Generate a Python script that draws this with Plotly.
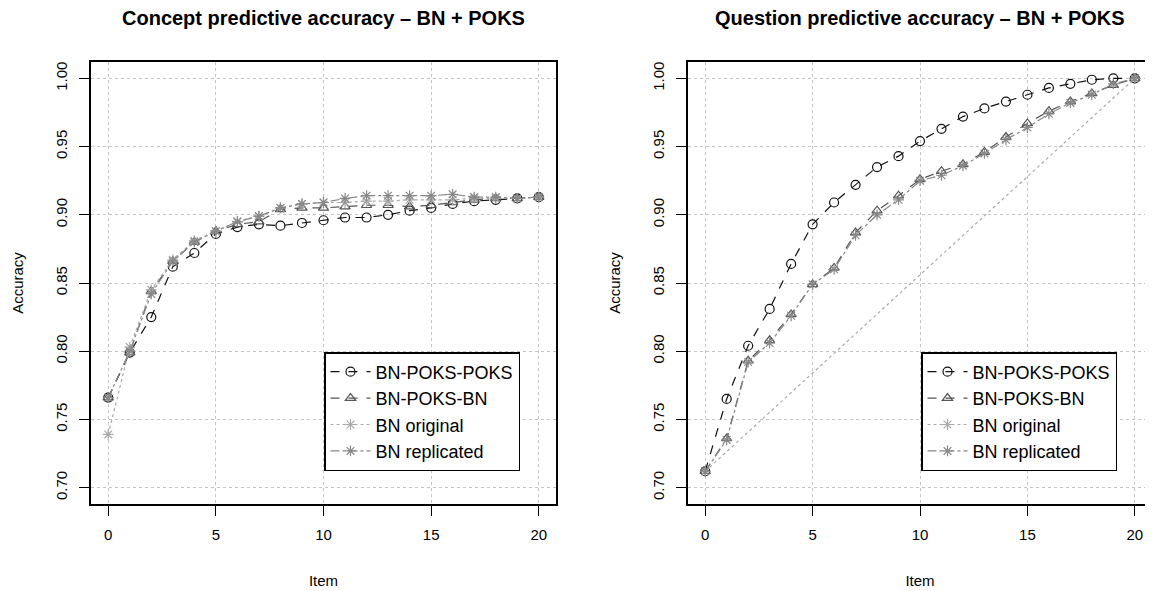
import plotly.graph_objects as go

items = list(range(21))

# Concept predictive accuracy
concept_poks_poks = [0.766, 0.799, 0.825, 0.862, 0.872, 0.886, 0.891, 0.893, 0.892, 0.894, 0.896,
                     0.898, 0.898, 0.900, 0.903, 0.905, 0.908, 0.910, 0.911, 0.912, 0.913]
concept_poks_bn = [0.766, 0.799, 0.844, 0.866, 0.880, 0.888, 0.893, 0.895, 0.904, 0.905, 0.905,
                   0.906, 0.907, 0.907, 0.906, 0.907, 0.909, 0.911, 0.912, 0.912, 0.913]
concept_bn_original = [0.739, 0.803, 0.845, 0.867, 0.881, 0.888, 0.895, 0.899, 0.905, 0.908, 0.909,
                       0.909, 0.910, 0.910, 0.911, 0.911, 0.911, 0.912, 0.912, 0.912, 0.913]
concept_bn_replicated = [0.766, 0.800, 0.842, 0.866, 0.880, 0.888, 0.895, 0.899, 0.905, 0.908, 0.909,
                         0.912, 0.914, 0.914, 0.914, 0.914, 0.915, 0.913, 0.913, 0.912, 0.913]

# Question predictive accuracy
question_poks_poks = [0.712, 0.765, 0.804, 0.831, 0.864, 0.893, 0.909, 0.922, 0.935, 0.943, 0.954,
                      0.963, 0.972, 0.978, 0.983, 0.988, 0.993, 0.996, 0.999, 1.000, 1.000]
question_poks_bn = [0.712, 0.736, 0.793, 0.808, 0.827, 0.849, 0.861, 0.887, 0.903, 0.914, 0.926,
                    0.932, 0.937, 0.946, 0.957, 0.967, 0.976, 0.983, 0.989, 0.995, 1.000]
question_bn_original_x = [0, 20]
question_bn_original = [0.712, 1.000]
question_bn_replicated = [0.712, 0.735, 0.792, 0.806, 0.826, 0.849, 0.860, 0.885, 0.900, 0.911, 0.925,
                          0.929, 0.936, 0.945, 0.955, 0.964, 0.974, 0.982, 0.988, 0.996, 1.000]

series_names = ["BN-POKS-POKS", "BN-POKS-BN", "BN original", "BN replicated"]
x_ticks = [0, 5, 10, 15, 20]
y_ticks = [0.70, 0.75, 0.80, 0.85, 0.90, 0.95, 1.00]
titles = ["Concept predictive accuracy \u2013 BN + POKS", "Question predictive accuracy \u2013 BN + POKS"]

styles = [
    dict(color="#111111", dash="dash", symbol="circle-open"),
    dict(color="#555555", dash="dash", symbol="triangle-up-open"),
    dict(color="#aaaaaa", dash="dot", symbol="asterisk-open"),
    dict(color="#888888", dash="dashdot", symbol="asterisk-open"),
]

FONT = "Liberation Sans, Arial, sans-serif"
# page has an 8px body margin: figure coords = page coords - 8
OFF = 8
W, H = 1153 - OFF, 591 - OFF

def px(xp):
    return (xp - OFF) / W

def py(yp):
    return 1 - (yp - OFF) / H

fig = go.Figure()

panels = [
    ("x", "y", "legend",
     [(items, concept_poks_poks), (items, concept_poks_bn), (items, concept_bn_original), (items, concept_bn_replicated)]),
    ("x2", "y2", "legend2",
     [(items, question_poks_poks), (items, question_poks_bn), (question_bn_original_x, question_bn_original),
      (items, question_bn_replicated)]),
]

for xa, ya, lg, data in panels:
    for (xs, ys), name, st in zip(data, series_names, styles):
        fig.add_trace(go.Scatter(
            x=xs, y=ys, name=name, mode="lines+markers",
            xaxis=xa, yaxis=ya, legend=lg, cliponaxis=False,
            line=dict(color=st["color"], dash=st["dash"], width=1.2),
            marker=dict(symbol=st["symbol"], size=9, color=st["color"],
                        line=dict(color=st["color"], width=1.2)),
        ))

left_dom = [px(91), px(556)]
right_dom = [px(688), min(px(1152), 1.0)]
y_dom = [py(504), py(62)]

axis_common = dict(
    showline=True, linecolor="black", linewidth=1.5, mirror=True,
    ticks="outside", ticklen=10, tickwidth=1.2, tickcolor="black",
    showgrid=True, gridcolor="#c4c4c4", griddash="dot", gridwidth=1,
    zeroline=False, automargin=False, ticklabelstandoff=6,
    tickfont=dict(family=FONT, size=15, color="black"),
)

xaxis_common = dict(axis_common, range=[-0.8, 20.8], tickvals=x_ticks,
                    title=dict(text="Item", font=dict(family=FONT, size=15, color="black"), standoff=34))
yaxis_common = dict(axis_common, range=[0.688, 1.012], tickvals=y_ticks, tickformat=".2f",
                    tickangle=-90,
                    title=dict(text="Accuracy", font=dict(family=FONT, size=15, color="black"), standoff=26))

legend_common = dict(
    bgcolor="white", bordercolor="black", borderwidth=1.5,
    font=dict(family=FONT, size=18, color="black"),
    xanchor="left", yanchor="top", tracegroupgap=0, itemwidth=40,
)

fig.update_layout(
    template="none",
    width=W, height=H,
    margin=dict(l=0, r=0, t=0, b=0),
    paper_bgcolor="white", plot_bgcolor="white",
    font=dict(family=FONT, color="black"),
    xaxis=dict(xaxis_common, domain=left_dom, anchor="y"),
    yaxis=dict(yaxis_common, domain=y_dom, anchor="x"),
    xaxis2=dict(xaxis_common, domain=right_dom, anchor="y2"),
    yaxis2=dict(yaxis_common, domain=y_dom, anchor="x2"),
    legend=dict(legend_common, x=px(324), y=py(352)),
    legend2=dict(legend_common, x=px(921), y=py(352)),
    annotations=[
        dict(text="<b>%s</b>" % titles[0], x=(left_dom[0] + left_dom[1]) / 2, y=py(18),
             xref="paper", yref="paper", showarrow=False, xanchor="center", yanchor="middle",
             font=dict(family=FONT, size=20, color="black")),
        dict(text="<b>%s</b>" % titles[1], x=(right_dom[0] + right_dom[1]) / 2, y=py(18),
             xref="paper", yref="paper", showarrow=False, xanchor="center", yanchor="middle",
             font=dict(family=FONT, size=20, color="black")),
    ],
)

fig.write_html("out.html")
